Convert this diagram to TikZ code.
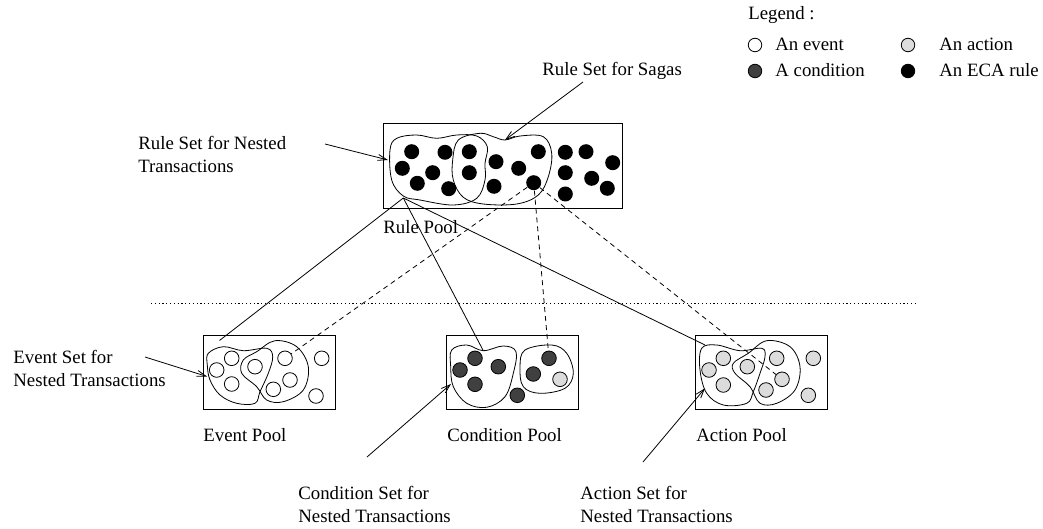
\documentclass[tikz,border=0pt]{standalone}
\usepackage{fontspec}
\setmainfont{Liberation Serif}
\usetikzlibrary{arrows.meta}
\definecolor{condgray}{HTML}{404040}
\definecolor{actgray}{HTML}{DCDCDC}
\begin{document}
\begin{tikzpicture}[x=1pt,y=-1pt, line width=0.8pt,
  every node/.style={font=\fontsize{18.8}{23}\selectfont, inner sep=0pt},
  ruledot/.style={circle, fill=black, minimum size=15pt, inner sep=0pt},
  evt/.style={circle, draw, fill=white, minimum size=14.6pt},
  cnd/.style={circle, draw, fill=condgray, minimum size=14.6pt},
  act/.style={circle, draw, fill=actgray, minimum size=14.6pt},
  pool/.style={draw, rectangle, minimum height=74pt},
  lbl/.style={anchor=base west, align=left},
  pointer/.style={-{Straight Barb[length=9pt,width=6pt]}},
  dlink/.style={dash pattern=on 5pt off 4pt},
  sep/.style={dash pattern=on 1.2pt off 2.6pt}]
\useasboundingbox (0,0) rectangle (1043,529);

% ---------- Legend ----------
\node[lbl] (legend) at (748,19.5) {Legend :};
\node[evt, minimum size=13.5pt] (lg1) at (755,45) {};
\node[cnd, minimum size=13.5pt] (lg2) at (755,71) {};
\node[act, minimum size=13.5pt] (lg3) at (908,45) {};
\node[ruledot, minimum size=13.5pt, draw] (lg4) at (908,71) {};
\node[lbl] (lgt1) at (775,51) {An event};
\node[lbl] (lgt2) at (775,77) {A condition};
\node[lbl] (lgt3) at (939,51) {An action};
\node[lbl] (lgt4) at (939,77) {An ECA rule};

% ---------- Rule pool ----------
\node[pool, minimum width=239pt, minimum height=85pt] (rulepool) at (502.5,165.5) {};
\draw plot[smooth cycle, tension=0.6] coordinates {(390,150) (396.7,138.3) (416.7,135) (436.7,138.3) (456.7,135) (476.7,136) (487.3,146.7) (485,163.3) (485,180) (476.7,198.3) (453.3,205) (420,200) (403.3,196) (391.7,180)};
\draw plot[smooth cycle, tension=0.6] coordinates {(458.3,140) (480,133.3) (493.3,136.7) (505,140) (520,136) (543.3,136.7) (551.7,153.3) (548.3,176.7) (538.3,195) (516.7,204) (483.3,204) (463.3,197.3) (453.3,180) (452.7,160)};
\coordinate (rntend) at (388,160);
\coordinate (sagaend) at (505,140);
\coordinate (rntbot) at (403.3,198);
\foreach \n/\p in {1/{411.7,151.7},2/{445,152.3},3/{402.3,168.3},4/{432.7,172.7},5/{417.3,183.3},6/{448.7,188.7},7/{469.3,151.7},8/{469.3,172.7},9/{496,161.7},10/{518.7,168.3},11/{494,186.3},12/{538.3,151.7},13/{533.7,182.7},14/{565.3,152.3},15/{586,151.7},16/{565.3,172.7},17/{591.7,178.3},18/{565.3,194},19/{612.7,162.7},20/{607.3,188.3}}
  \node[ruledot] (r\n) at (\p) {};
\node[lbl] (rulepoollbl) at (383,234) {Rule Pool};

\node[lbl] (sagalbl) at (542,76) {Rule Set for Sagas};
\coordinate (sagastart) at (583,82);
\draw[pointer] (sagastart) -- (sagaend);
\node[lbl] (rntlbl) at (138,173) {Rule Set for Nested\\Transactions};
\coordinate (rntstart) at (325,144);
\draw[pointer] (rntstart) -- (rntend);

% ---------- separator ----------
\coordinate (sepL) at (151,303);
\coordinate (sepR) at (915,303);
\draw[sep, line width=0.7pt] (sepL) -- (sepR);

% ---------- Event pool ----------
\node[pool, minimum width=132.4pt] (eventpool) at (269.5,372) {};
\draw plot[smooth cycle, tension=0.6] coordinates {(208.3,353.3) (223.3,346.7) (243.3,350.7) (266.7,348.3) (272.7,356.7) (268.3,373.3) (260,391.7) (255,403.3) (236.7,403.3) (220,395) (210,380) (207.3,365)};
\draw plot[smooth cycle, tension=0.6] coordinates {(243.3,360) (256.7,351.7) (275,340.7) (296.7,346.7) (308.3,366.7) (303.3,390) (283.3,401.7) (266.7,400) (256.7,386.7) (241.7,373.3)};
\foreach \n/\p in {1/{231.7,358.3},2/{216.7,370},3/{231.7,384},4/{255,366.7},5/{285,358.3},6/{290,380},7/{273.3,389.3},8/{321.7,358.3},9/{316,396}}
  \node[evt] (e\n) at (\p) {};
\node[lbl] (eventpoollbl) at (203,441) {Event Pool};
\coordinate (evtop) at (219.5,340.5);
\coordinate (evsetend) at (207,376.5);
\node[lbl] (evsetlbl) at (13,386) {Event Set for\\Nested Transactions};
\coordinate (evsetstart) at (145,357);
\draw[pointer] (evsetstart) -- (evsetend);

% ---------- Condition pool ----------
\node[pool, minimum width=131.6pt] (condpool) at (512.5,372) {};
\draw plot[smooth cycle, tension=0.6] coordinates {(451.7,350) (466.7,345) (483.3,350.7) (503.3,346) (516,351.7) (513.3,373.3) (505,396.7) (486.7,407.3) (466.7,403.3) (453.3,386.7) (450.7,366.7)};
\draw plot[smooth cycle, tension=0.6] coordinates {(525,350) (551.7,345) (566.7,353.3) (573.3,373.3) (565,388.3) (540,393.3) (523.3,386.7) (520,366.7)};
\foreach \n/\p in {1/{475,358.3},2/{460,370},3/{475,384.3},4/{498.3,366.7},5/{517.3,395.3},6/{549,358.3},7/{533.3,374}}
  \node[cnd] (c\n) at (\p) {};
\node[act] (c8) at (560,379.3) {};
\node[lbl] (condpoollbl) at (447,441) {Condition Pool};
\coordinate (condtop) at (483.3,350.7);
\coordinate (condsetend) at (451,384);
\node[lbl] (condsetlbl) at (298,522) {Condition Set for\\Nested Transactions};
\coordinate (condsetstart) at (367,457);
\draw[pointer] (condsetstart) -- (condsetend);

% ---------- Action pool ----------
\node[pool, minimum width=132.3pt] (actpool) at (761.2,372) {};
\draw plot[smooth cycle, tension=0.6] coordinates {(701.7,348.3) (716.7,345) (740,350.7) (761.7,348.3) (765,356.7) (760,373.3) (753.3,391.7) (746.7,403.3) (723.3,405) (706.7,393.3) (700,370)};
\draw plot[smooth cycle, tension=0.6] coordinates {(733.3,363.3) (748.3,353.3) (766.7,340.7) (790,346.7) (800,366.7) (795,390) (776.7,403.3) (760,403.3) (750,386.7) (735,373.3)};
\foreach \n/\p in {1/{723.3,358.3},2/{709,370},3/{723.3,385},4/{747.3,366.7},5/{776.7,358.3},6/{782,379.3},7/{766,390},8/{813.3,358.3},9/{808.3,395.3}}
  \node[act] (a\n) at (\p) {};
\node[lbl] (actpoollbl) at (696,441) {Action Pool};
\coordinate (acttop) at (705,345);
\coordinate (actsetend) at (705,388.3);
\node[lbl] (actsetlbl) at (580,522) {Action Set for\\Nested Transactions};
\coordinate (actsetstart) at (643,462);
\draw[pointer] (actsetstart) -- (actsetend);

% ---------- connectors ----------
\draw (rntbot) -- (evtop);
\draw (rntbot) -- (condtop);
\draw (rntbot) -- (acttop);
\draw[dlink] (r13) -- (e5);
\draw[dlink] (r13) -- (c6);
\draw[dlink] (r13) -- (a6);
\end{tikzpicture}
\end{document}
